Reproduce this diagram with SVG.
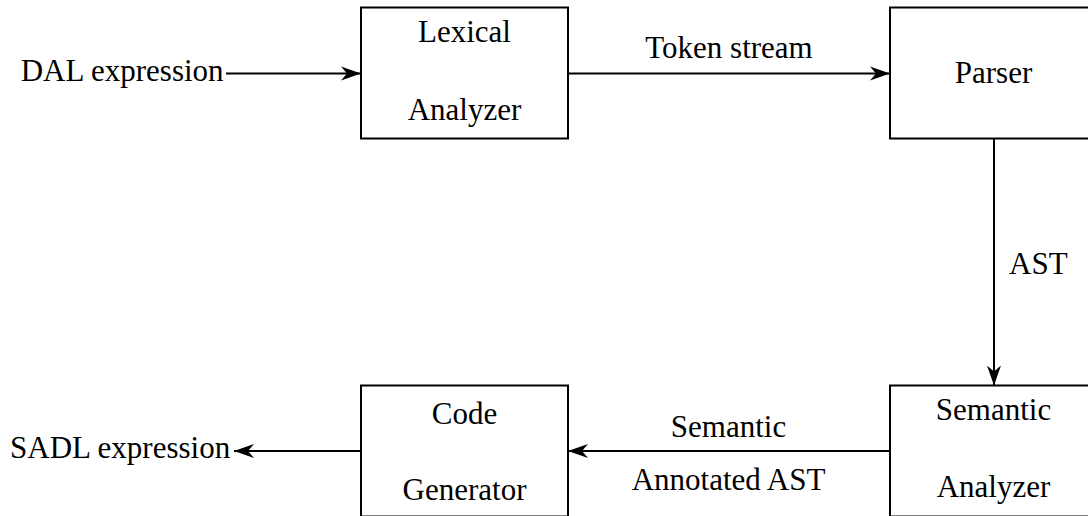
<svg xmlns="http://www.w3.org/2000/svg" width="1088" height="516" viewBox="0 0 1088 516">
<style>
  .box { fill: #ffffff; stroke: #000000; stroke-width: 2; }
  .t { font-family: "Liberation Serif", "Times New Roman", serif; font-size: 31px; fill: #000000; }
  .c { text-anchor: middle; }
  .edge { stroke: #000000; stroke-width: 2; fill: none; marker-end: url(#arrow); }
</style>
<defs>
  <marker id="arrow" markerUnits="userSpaceOnUse" markerWidth="22" markerHeight="16" refX="20" refY="8" orient="auto">
    <path d="M0,1 L20,8 L0,15 L6,8 Z" fill="#000000"/>
  </marker>
</defs>
<rect x="0" y="0" width="1088" height="516" fill="#ffffff"/>

<g id="connectors">
  <line class="edge" x1="226" y1="73.5" x2="361" y2="73.5"/>
  <line class="edge" x1="568" y1="73.5" x2="890" y2="73.5"/>
  <line class="edge" x1="994" y1="138.5" x2="994" y2="385.5"/>
  <line class="edge" x1="890" y1="451" x2="568" y2="451"/>
  <line class="edge" x1="361" y1="451" x2="234" y2="451"/>
  <text class="t" x="20.7" y="80.7">DAL expression</text>
  <text class="t c" x="729" y="58">Token stream</text>
  <text class="t" x="1009" y="274">AST</text>
  <text class="t c" x="728.5" y="437">Semantic</text>
  <text class="t c" x="728.5" y="490">Annotated AST</text>
  <text class="t" x="10" y="458">SADL expression</text>
</g>

<g id="lexical">
  <rect class="box" x="361" y="7.5" width="207" height="131"/>
  <text class="t c" x="464.5" y="42">Lexical</text>
  <text class="t c" x="464.5" y="120">Analyzer</text>
</g>

<g id="parser">
  <rect class="box" x="890" y="7.5" width="207" height="131"/>
  <text class="t c" x="993.5" y="83">Parser</text>
</g>

<g id="semantic">
  <rect class="box" x="890" y="385.5" width="207" height="131"/>
  <text class="t c" x="993.5" y="420">Semantic</text>
  <text class="t c" x="993.5" y="497">Analyzer</text>
</g>

<g id="codegen">
  <rect class="box" x="361" y="385.5" width="207" height="131"/>
  <text class="t c" x="464.5" y="424">Code</text>
  <text class="t c" x="464.5" y="500">Generator</text>
</g>
</svg>
